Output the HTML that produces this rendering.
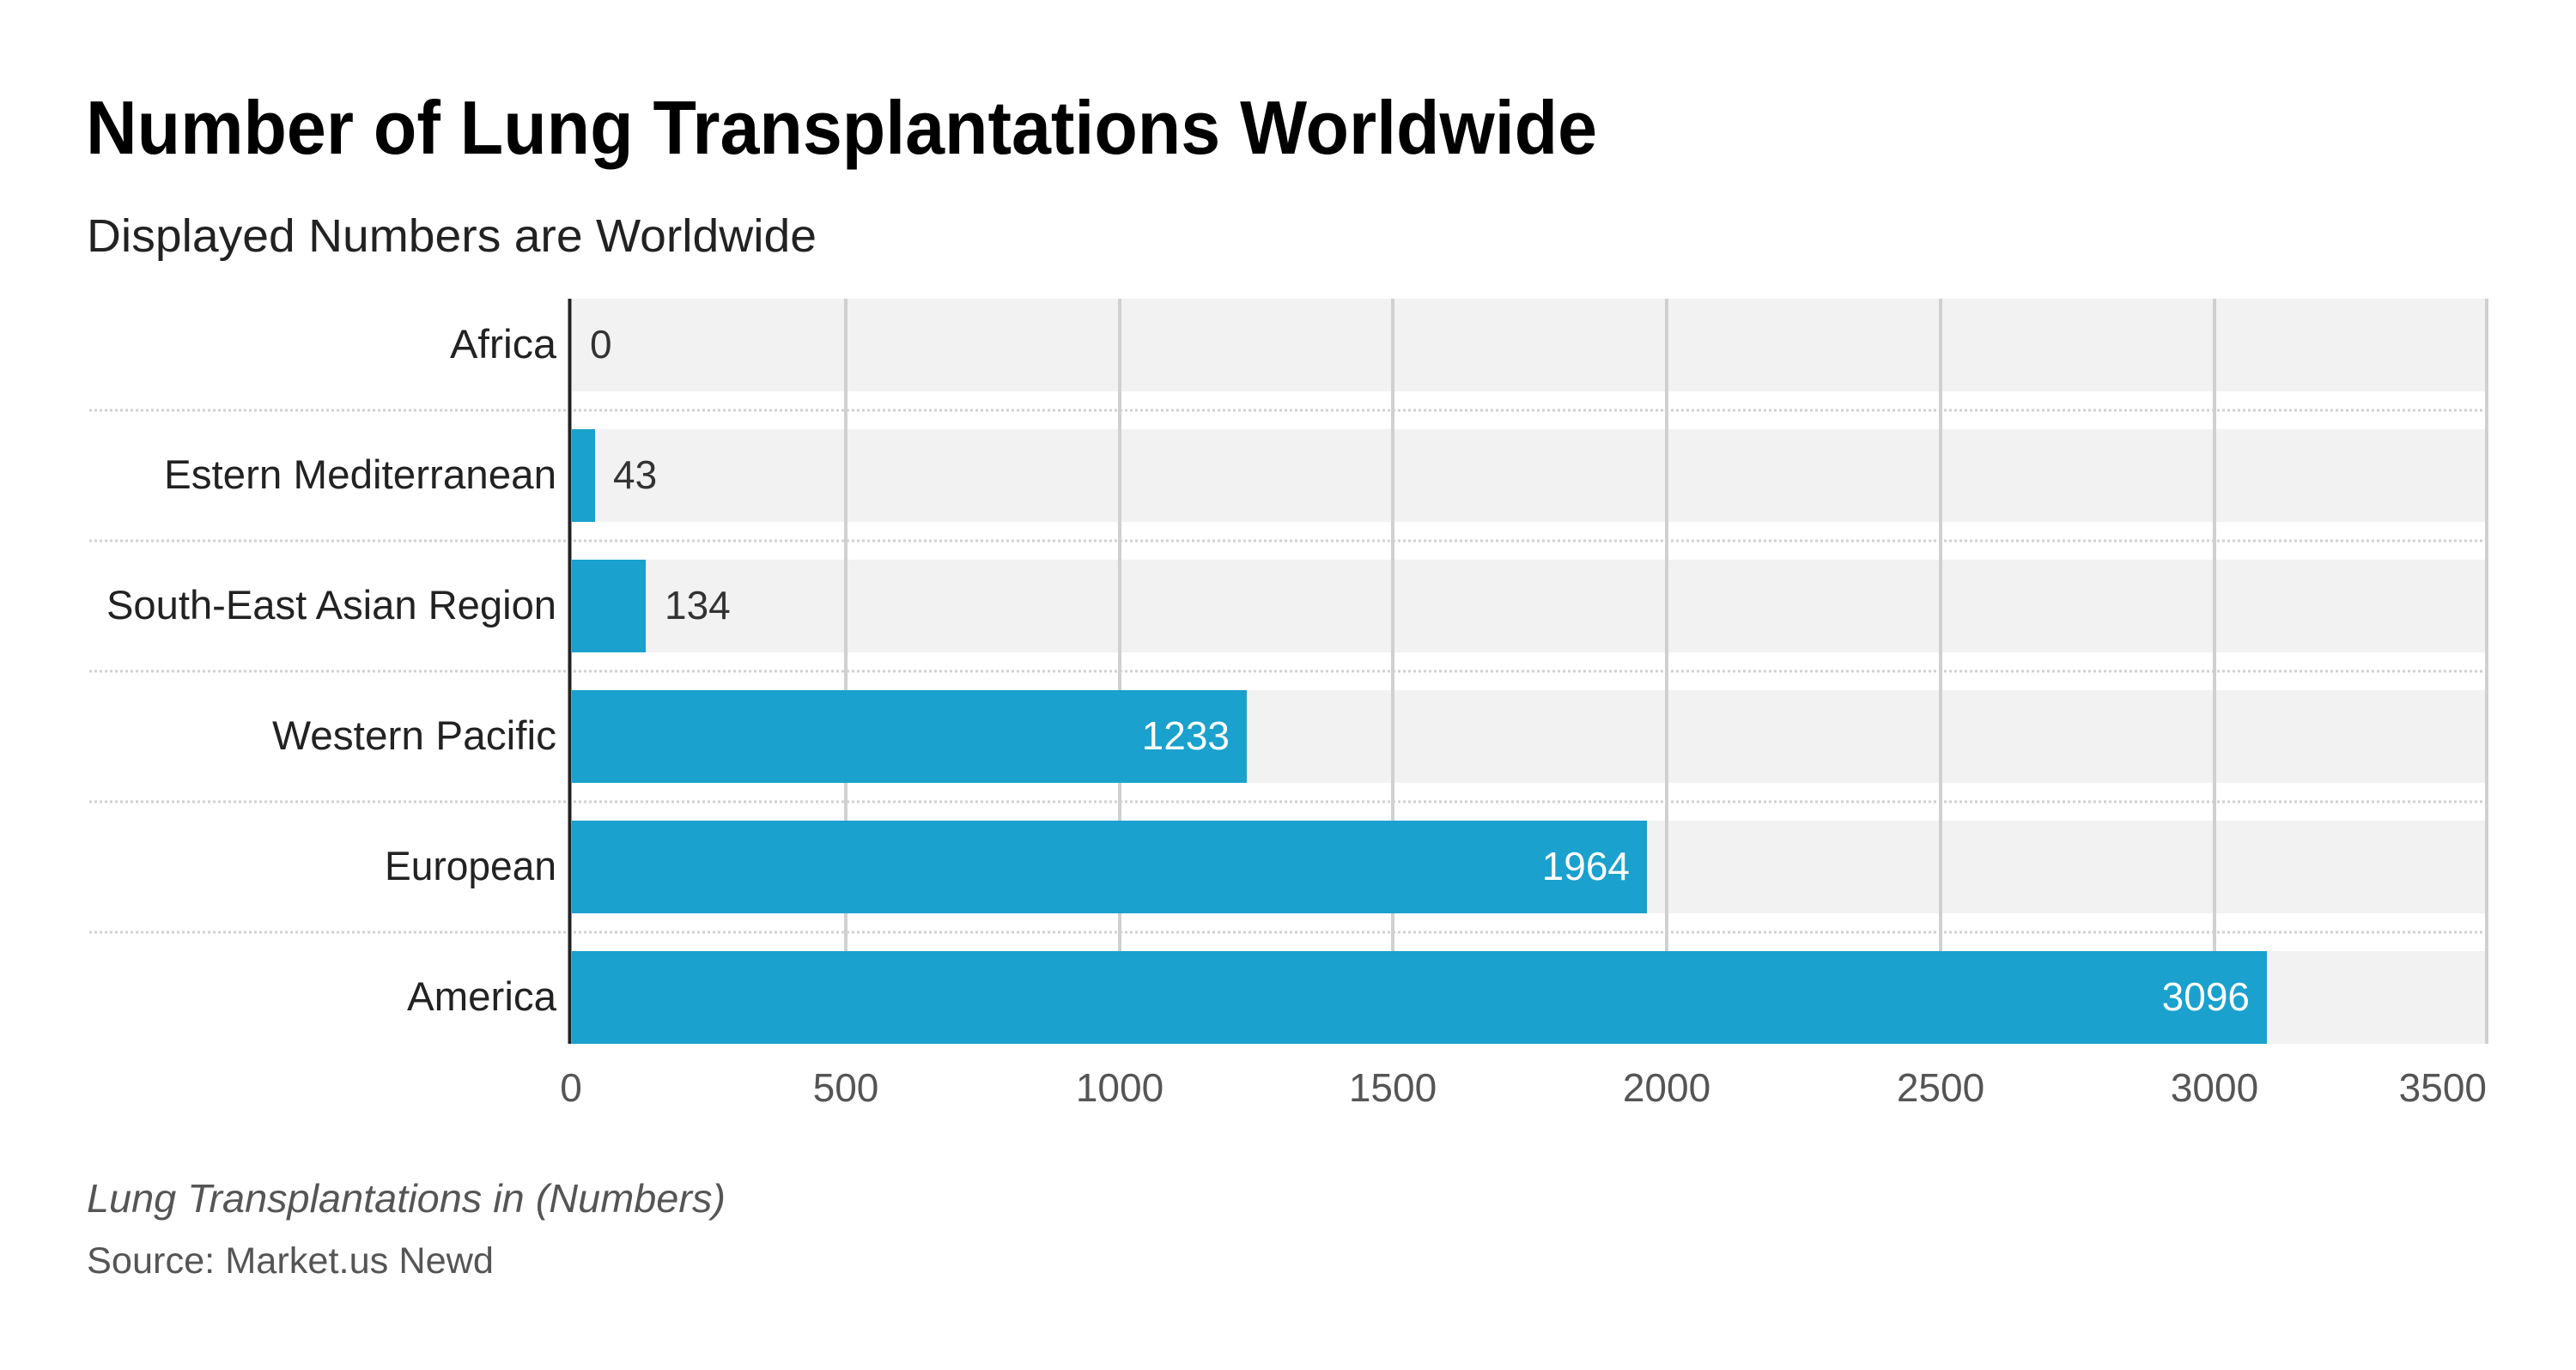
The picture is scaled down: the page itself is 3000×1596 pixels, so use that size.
<!DOCTYPE html>
<html><head><meta charset="utf-8"><style>
html,body{margin:0;padding:0;background:#fff;}
svg{display:block;}
text{font-family:"Liberation Sans",Arial,sans-serif;}
</style></head><body>
<svg width="3000" height="1596" viewBox="0 0 3000 1596" xmlns="http://www.w3.org/2000/svg">
<rect width="3000" height="1596" fill="#fff"/>
<text x="100" y="179" font-size="88" font-weight="bold" fill="#000" textLength="1760" lengthAdjust="spacingAndGlyphs">Number of Lung Transplantations Worldwide</text>
<text x="101" y="293" font-size="54" fill="#222" textLength="850" lengthAdjust="spacingAndGlyphs">Displayed Numbers are Worldwide</text>

<g fill="#f2f2f2">
<rect x="666" y="348" width="2232" height="108"/>
<rect x="666" y="500" width="2232" height="108"/>
<rect x="666" y="652" width="2232" height="108"/>
<rect x="666" y="804" width="2232" height="108"/>
<rect x="666" y="956" width="2232" height="108"/>
<rect x="666" y="1108" width="2232" height="108"/>
</g>
<g stroke="#d0d0d0" stroke-width="4">
<line x1="985" y1="348" x2="985" y2="1216"/>
<line x1="1304" y1="348" x2="1304" y2="1216"/>
<line x1="1622" y1="348" x2="1622" y2="1216"/>
<line x1="1941" y1="348" x2="1941" y2="1216"/>
<line x1="2260" y1="348" x2="2260" y2="1216"/>
<line x1="2579" y1="348" x2="2579" y2="1216"/>
<line x1="2896" y1="348" x2="2896" y2="1216"/>
</g>
<g stroke="#d0d0d0" stroke-width="3" stroke-dasharray="3 3">
<line x1="104" y1="478" x2="2898" y2="478"/>
<line x1="104" y1="630" x2="2898" y2="630"/>
<line x1="104" y1="782" x2="2898" y2="782"/>
<line x1="104" y1="934" x2="2898" y2="934"/>
<line x1="104" y1="1086" x2="2898" y2="1086"/>
</g>
<g fill="#1aa1cd">
<rect x="666" y="500" width="27" height="108"/>
<rect x="666" y="652" width="86" height="108"/>
<rect x="666" y="804" width="786" height="108"/>
<rect x="666" y="956" width="1252" height="108"/>
<rect x="666" y="1108" width="1974" height="108"/>
</g>
<line x1="663.5" y1="348" x2="663.5" y2="1216" stroke="#222" stroke-width="4"/>

<g font-size="47" fill="#222" lengthAdjust="spacingAndGlyphs">
<text x="524" y="417" textLength="124" lengthAdjust="spacingAndGlyphs">Africa</text>
<text x="191" y="569" textLength="457" lengthAdjust="spacingAndGlyphs">Estern Mediterranean</text>
<text x="124" y="721" textLength="524" lengthAdjust="spacingAndGlyphs">South-East Asian Region</text>
<text x="317" y="873" textLength="331" lengthAdjust="spacingAndGlyphs">Western Pacific</text>
<text x="448" y="1025" textLength="200" lengthAdjust="spacingAndGlyphs">European</text>
<text x="474" y="1177" textLength="174" lengthAdjust="spacingAndGlyphs">America</text>
</g>
<g font-size="46" fill="#333">
<text x="687" y="417">0</text>
<text x="714" y="569">43</text>
<text x="774" y="721">134</text>
</g>
<g font-size="46" fill="#fff" text-anchor="end">
<text x="1432" y="873">1233</text>
<text x="1898" y="1025">1964</text>
<text x="2620" y="1177">3096</text>
</g>
<g font-size="46" fill="#555" text-anchor="middle">
<text x="665" y="1283">0</text>
<text x="985" y="1283">500</text>
<text x="1304" y="1283">1000</text>
<text x="1622" y="1283">1500</text>
<text x="1941" y="1283">2000</text>
<text x="2260" y="1283">2500</text>
<text x="2579" y="1283">3000</text>
<text x="2896" y="1283" text-anchor="end">3500</text>
</g>
<text x="101" y="1412" font-size="46" font-style="italic" fill="#555" textLength="744" lengthAdjust="spacingAndGlyphs">Lung Transplantations in (Numbers)</text>
<text x="101" y="1483" font-size="43" fill="#555" textLength="474" lengthAdjust="spacingAndGlyphs">Source: Market.us Newd</text>
</svg>
</body></html>
